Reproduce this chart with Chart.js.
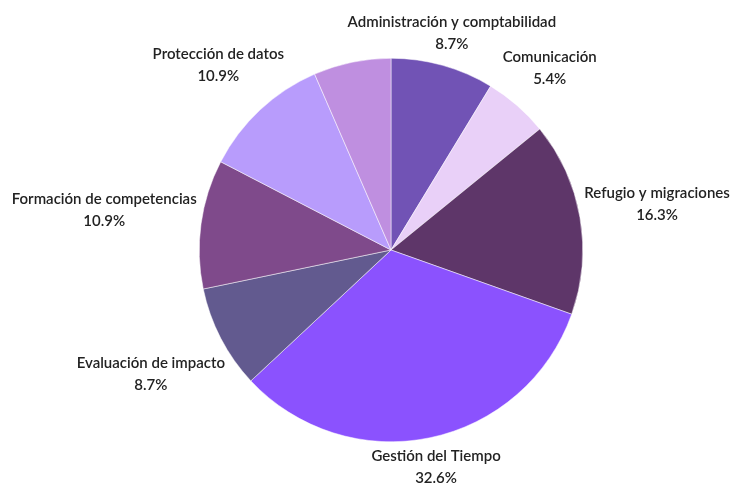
<!DOCTYPE html>
<html>
<head>
<meta charset="utf-8">
<script src="https://cdn.jsdelivr.net/npm/chart.js@4"></script>
<style>
  html, body { margin: 0; padding: 0; background: #fff; }
  canvas { display: block; }
</style>
</head>
<body>
<canvas id="myChart" width="731" height="484"></canvas>
<script>
// categorías y número de respuestas por área
const areas = [
  'Administración y comptabilidad',
  'Comunicación',
  'Refugio y migraciones',
  'Gestión del Tiempo',
  'Evaluación de impacto',
  'Formación de competencias',
  'Protección de datos',
  ''
]
const respuestas = [8, 5, 15, 30, 8, 10, 10, 6]
const colores = ['#7153b5', '#e9d0f8', '#5e3669', '#8b52fe', '#625a8f', '#7f4a8b', '#b89cfc', '#bf8fe0']

const total = respuestas.reduce((a, b) => a + b, 0)

// distancia del centro al punto más cercano de una caja centrada en (cx, cy)
function distCaja(cx, cy, a, b) {
  const nx = Math.max(cx - a, Math.min(0, cx + a))
  const ny = Math.max(cy - b, Math.min(0, cy + b))
  return Math.hypot(nx, ny)
}

// etiquetas fuera del pastel: nombre + porcentaje
const etiquetas = {
  id: 'etiquetas',
  afterDatasetsDraw(chart) {
    const ctx = chart.ctx
    const meta = chart.getDatasetMeta(0)
    ctx.save()
    ctx.font = '600 15px Lato'
    ctx.fillStyle = '#222'
    ctx.textAlign = 'center'
    ctx.textBaseline = 'middle'
    meta.data.forEach((arc, i) => {
      if (!areas[i]) return
      const p = arc.getProps(['x', 'y', 'startAngle', 'endAngle', 'outerRadius'], true)
      const mid = (p.startAngle + p.endAngle) / 2
      const vx = Math.cos(mid)
      const vy = Math.sin(mid)
      const pct = (respuestas[i] / total * 100).toFixed(1) + '%'
      const a = Math.max(ctx.measureText(areas[i]).width, ctx.measureText(pct).width) / 2
      const b = 22
      // alejar la caja sobre la bisectriz hasta que no toque el pastel
      let d = 0
      while (distCaja(vx * d, vy * d, a, b) < p.outerRadius + 3) d += 0.5
      const cx = p.x + vx * d
      const cy = p.y + vy * d
      ctx.fillText(areas[i], cx, cy - 11)
      ctx.fillText(pct, cx, cy + 11)
    })
    ctx.restore()
  }
}

new Chart(document.getElementById('myChart'), {
  type: 'pie',
  data: {
    labels: areas,
    datasets: [{
      data: respuestas,
      backgroundColor: colores,
      borderColor: '#fff',
      borderWidth: 0.5
    }]
  },
  options: {
    responsive: false,
    animation: false,
    layout: { padding: { top: 58, bottom: 42, left: 199, right: 148 } },
    plugins: {
      legend: { display: false },
      tooltip: { enabled: false }
    }
  },
  plugins: [etiquetas]
})
</script>
</body>
</html>
